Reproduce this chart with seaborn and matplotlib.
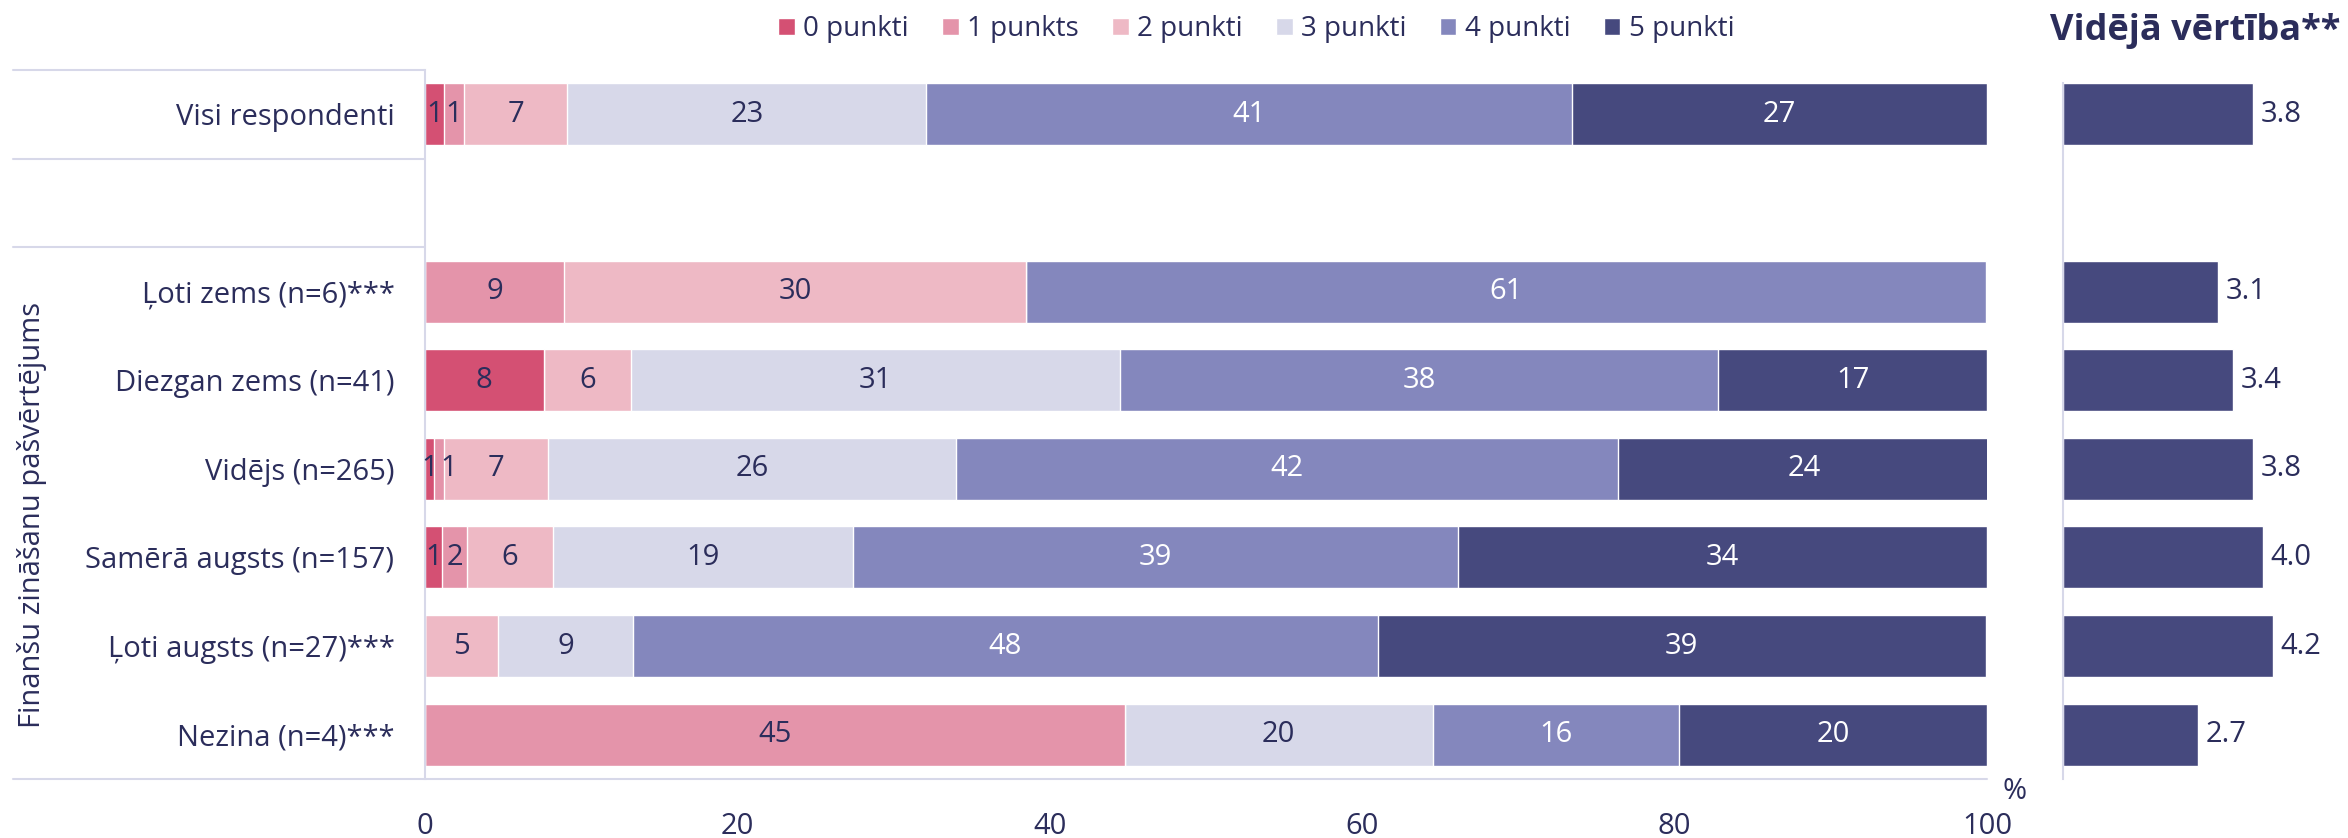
import numpy as np
import pandas as pd
import seaborn as sns
from matplotlib import pyplot as plt

groups = ["Visi respondenti", " ", "Ļoti zems (n=6)***", "Diezgan zems (n=41)",
          "Vidējs (n=265)", "Samērā augsts (n=157)", "Ļoti augsts (n=27)***",
          "Nezina (n=4)***"]
levels = ["0 punkti", "1 punkts", "2 punkti", "3 punkti", "4 punkti", "5 punkti"]

# shares in %, one list per level, row order = groups without the blank row
p0 = [1.2, 0.0, 7.6, 0.6, 1.1, 0.0, 0.0]
p1 = [1.3, 8.9, 0.0, 0.6, 1.6, 0.0, 44.8]
p2 = [6.6, 29.6, 5.6, 6.7, 5.5, 4.7, 0.0]
p3 = [23.0, 0.0, 31.3, 26.1, 19.2, 8.6, 19.7]
p4 = [41.3, 61.4, 38.3, 42.4, 38.7, 47.7, 15.8]
p5 = [26.6, 0.0, 17.2, 23.8, 33.9, 38.9, 19.7]
means = [3.8, 3.1, 3.4, 3.8, 4.0, 4.2, 2.7]

colors = ["#D45073", "#E494AA", "#EEB9C5", "#D7D8E9", "#8487BD", "#46497E"]
label_colors = ["#2B2D5B"] * 4 + ["white", "white"]
txt = "#2B2D5B"
line_c = "#D7D8E9"
fs = 21

sns.set_style("white")
plt.rcParams["font.family"] = ["Open Sans", "DejaVu Sans"]

rows = [g for g in groups if g.strip()]
df = pd.DataFrame({"group": rows})
vals = np.array([p0, p1, p2, p3, p4, p5])
cums = vals.cumsum(axis=0)
for k in range(6):
    df[f"cum{k}"] = cums[k]
df["mean"] = means

fig = plt.figure(figsize=(23.48, 8.38), dpi=100)
ax = fig.add_axes([0.181, 0.0704, 0.6653, 0.8461])
ax2 = fig.add_axes([0.8786, 0.0704, 0.1065, 0.8461])

# stacked bars: draw cumulative totals from the top level down
for k in range(5, -1, -1):
    sns.barplot(data=df, y="group", x=f"cum{k}", order=groups, color=colors[k],
                saturation=1, width=0.7, errorbar=None, orient="h", ax=ax,
                label=levels[k])
handles, labels = ax.get_legend_handles_labels()
if ax.get_legend() is not None:
    ax.get_legend().remove()

for i, g in enumerate(rows):
    yi = groups.index(g)
    left = 0
    prev = -10
    for k in range(6):
        v = vals[k][i]
        if v > 0.3:
            xc = max(left + v / 2, prev + 1.2)
            ax.text(xc, yi, f"{v:.0f}", ha="center", va="center",
                    fontsize=fs, color=label_colors[k])
            prev = xc
        left += v

ax.set_xlim(0, 100)
ax.set_ylim(7.5, -0.5)
ax.set_xticks([0, 20, 40, 60, 80, 100])
ax.tick_params(axis="x", length=0, pad=24, labelsize=fs, labelcolor=txt)
ax.tick_params(axis="y", length=0, pad=22, labelsize=fs, labelcolor=txt)
ax.set_xlabel("")
ax.set_ylabel("")
for s in ["top", "right", "bottom"]:
    ax.spines[s].set_visible(False)
ax.spines["left"].set_color(line_c)
ax.spines["left"].set_linewidth(1.5)
for yl in [-0.5, 0.5, 1.5]:
    ax.axhline(yl, xmin=-0.264, xmax=0, color=line_c, lw=1.5, clip_on=False)
ax.axhline(7.5, xmin=-0.264, xmax=1, color=line_c, lw=1.5, clip_on=False)
ax.text(101.0, 7.48, "%", ha="left", va="top", fontsize=fs, color=txt)

fig.text(0.0135, 0.385, "Finanšu zināšanu pašvērtējums", rotation=90,
         ha="center", va="center", fontsize=fs, color=txt)

order_idx = [labels.index(l) for l in levels]
fig.legend([handles[i] for i in order_idx], levels, loc="center",
           bbox_to_anchor=(0.535, 0.965), ncol=6, frameon=False,
           fontsize=20, handlelength=0.6, handleheight=0.6,
           handletextpad=0.3, columnspacing=1.2, labelcolor=txt)

# right panel: mean score
sns.barplot(data=df, y="group", x="mean", order=groups, color=colors[5],
            saturation=1, width=0.7, errorbar=None, orient="h", ax=ax2)
for i, g in enumerate(rows):
    ax2.text(means[i] + 0.15, groups.index(g), f"{means[i]:.1f}", ha="left",
             va="center", fontsize=fs, color=txt)
ax2.set_xlim(0, 5)
ax2.set_ylim(7.5, -0.5)
ax2.set_xticks([])
ax2.set_yticks([])
ax2.set_xlabel("")
ax2.set_ylabel("")
for s in ["top", "right", "bottom"]:
    ax2.spines[s].set_visible(False)
ax2.spines["left"].set_color(line_c)
ax2.spines["left"].set_linewidth(1.5)
ax2.spines["left"].set_bounds(7.5, -0.35)
fig.text(0.9966, 0.963, "Vidējā vērtība**", ha="right", va="center",
         fontsize=26, fontweight="bold", color=txt)

plt.savefig("out.png", dpi=100)
